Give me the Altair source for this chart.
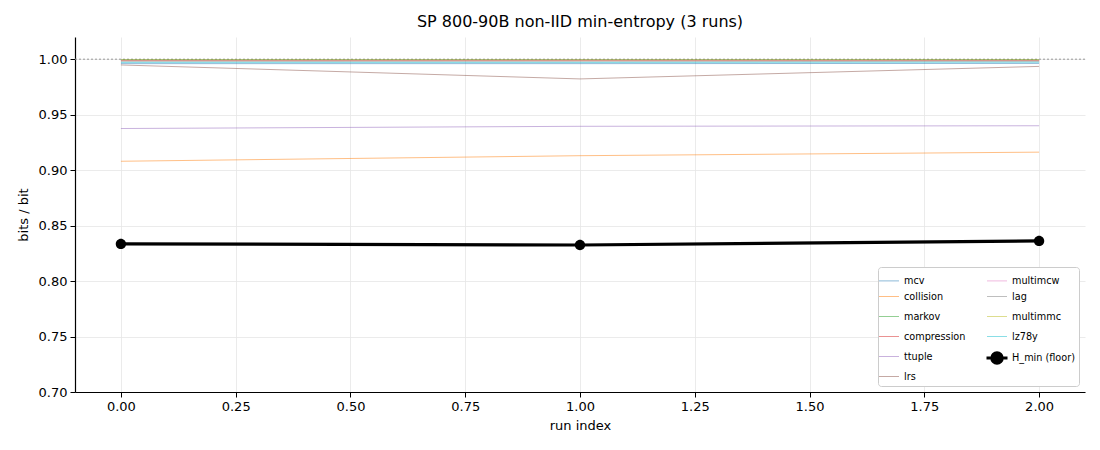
import altair as alt
import pandas as pd

runs = [0, 1, 2]
series_names = ["mcv", "collision", "markov", "compression", "ttuple", "lrs",
                "multimcw", "lag", "multimmc", "lz78y"]
series_colors = ["#1f77b4", "#ff7f0e", "#2ca02c", "#d62728", "#9467bd", "#8c564b",
                 "#e377c2", "#7f7f7f", "#bcbd22", "#17becf"]
mcv = [0.9960, 0.9960, 0.9962]
collision = [0.9080, 0.9130, 0.9162]
markov = [0.9995, 0.9995, 0.9995]
compression = [0.9990, 0.9990, 0.9990]
ttuple = [0.9375, 0.9395, 0.9400]
lrs = [0.9948, 0.9822, 0.9935]
multimcw = [0.9988, 0.9990, 0.9988]
lag = [0.9980, 0.9978, 0.9980]
multimmc = [0.9993, 0.9993, 0.9993]
lz78y = [0.9970, 0.9970, 0.9972]
h_min = [0.8335, 0.8325, 0.8362]
hmin_name = "H_min (floor)"

values = [mcv, collision, markov, compression, ttuple, lrs, multimcw, lag, multimmc, lz78y]

rows = []
for name, vals in zip(series_names, values):
    for r, v in zip(runs, vals):
        rows.append({"run": r, "value": v, "series": name})
for r, v in zip(runs, h_min):
    rows.append({"run": r, "value": v, "series": hmin_name})
df = pd.DataFrame(rows)

dom = series_names + [hmin_name]
all_colors = dict(zip(series_names, series_colors))
all_colors[hmin_name] = "#000000"
rng = [all_colors[s] for s in dom]
widths = [3.2 if s == hmin_name else 1.0 for s in dom]
opac = [1.0 if s == hmin_name else 0.5 for s in dom]
line_path = "M-2,0H2"
rr = 1.03
kk = round(rr * 0.5523, 3)
hmin_path = (
    f"M-2.1,0H2.1M{rr},0"
    f"C{rr},{kk},{kk},{rr},0,{rr}"
    f"C{-kk},{rr},{-rr},{kk},{-rr},0"
    f"C{-rr},{-kk},{-kk},{-rr},0,{-rr}"
    f"C{kk},{-rr},{rr},{-kk},{rr},0Z"
)
shapes = [hmin_path if s == hmin_name else line_path for s in dom]

x_enc = alt.X("run:Q", title="run index",
              scale=alt.Scale(domain=[-0.1, 2.1], nice=False, zero=False),
              axis=alt.Axis(values=[0, 0.25, 0.5, 0.75, 1.0, 1.25, 1.5, 1.75, 2.0], format=".2f"))
y_enc = alt.Y("value:Q", title="bits / bit",
              scale=alt.Scale(domain=[0.70, 1.02], nice=False, zero=False),
              axis=alt.Axis(values=[0.70, 0.75, 0.80, 0.85, 0.90, 0.95, 1.00], format=".2f"))

legend = alt.Legend(title=None, orient="bottom-right", columns=2, gridAlign="all")
color_enc = alt.Color("series:N", sort=dom, scale=alt.Scale(domain=dom, range=rng), legend=legend)

lines = alt.Chart(df).mark_line().encode(
    x=x_enc, y=y_enc, color=color_enc,
    strokeWidth=alt.StrokeWidth("series:N", sort=dom,
                                scale=alt.Scale(type="ordinal", domain=dom, range=widths), legend=legend),
    opacity=alt.Opacity("series:N", sort=dom,
                        scale=alt.Scale(type="ordinal", domain=dom, range=opac), legend=legend),
)

pts = alt.Chart(df[df["series"] == hmin_name]).mark_point(filled=True, size=100, opacity=1).encode(
    x=x_enc, y=y_enc, color=color_enc,
    shape=alt.Shape("series:N", sort=dom, scale=alt.Scale(domain=dom, range=shapes), legend=legend),
)

ref_df = pd.DataFrame({"y": [1.0]})
ref = alt.Chart(ref_df).mark_rule(color="#999999", strokeDash=[2, 2], strokeWidth=1).encode(
    y=alt.Y("y:Q", scale=alt.Scale(domain=[0.70, 1.02], nice=False, zero=False))
)

chart = alt.layer(ref, lines, pts).properties(
    width=1010, height=355,
    title=alt.Title("SP 800-90B non-IID min-entropy (3 runs)", fontSize=16, fontWeight="normal",
                    color="#000000", font="DejaVu Sans", offset=7),
    autosize=alt.AutoSizeParams(type="none"),
    padding={"left": 67, "top": 29, "right": 7, "bottom": 45},
).configure_view(stroke=None).configure_axis(
    labelFont="DejaVu Sans", titleFont="DejaVu Sans", labelFontSize=13, titleFontSize=13,
    labelColor="#000000", titleColor="#000000", titleFontWeight="normal",
    domainColor="#000000", tickColor="#000000", tickSize=5, domainWidth=1.2,
    gridColor="#e6e6e6", gridWidth=0.8, labelPadding=3,
).configure_axisX(titlePadding=6).configure_axisY(titlePadding=8).configure_legend(
    labelFont="DejaVu Sans", labelFontSize=9.7, labelColor="#000000",
    fillColor="#ffffff", strokeColor="#cccccc", cornerRadius=3, padding=4,
    offset=6, symbolSize=100, columnPadding=13, rowPadding=-4, labelOffset=8,
)

chart.save("out.html", embed_options={"renderer": "svg", "actions": False})
